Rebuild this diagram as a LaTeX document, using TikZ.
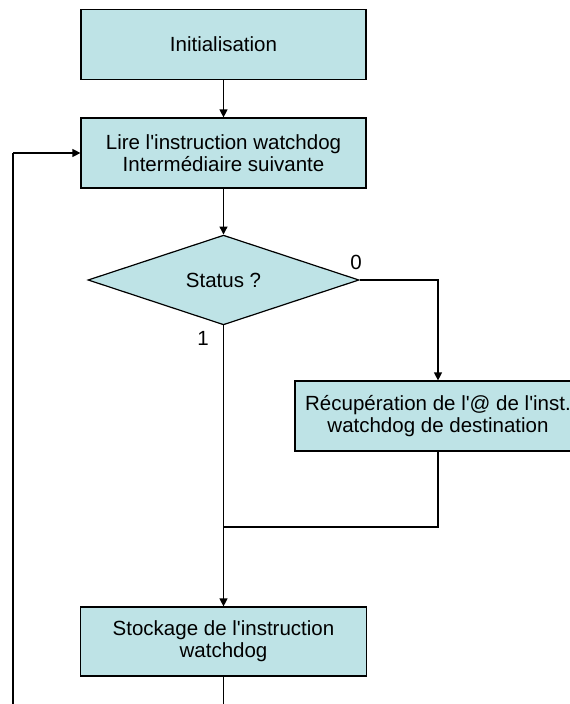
\documentclass[tikz,border=0pt]{standalone}
\usepackage{fontspec}
\setmainfont{Liberation Sans}
\usetikzlibrary{shapes.geometric,arrows.meta}
\definecolor{boxfill}{RGB}{190,227,230}
\newcommand{\apos}{\textquotesingle}
\begin{document}
\begin{tikzpicture}[x=1pt,y=-1pt,
  every node/.style={font=\fontsize{20.5}{22}\selectfont},
  procbox/.style={draw=black,fill=boxfill,line width=1.2pt,rectangle,minimum width=285pt,minimum height=70pt,inner sep=0pt,align=center},
  decision/.style={draw=black,fill=boxfill,line width=1.2pt,diamond,minimum width=271pt,minimum height=84pt,inner sep=0pt,align=center},
  conn/.style={line width=1.2pt,draw=black},
  arr/.style={conn,-{Triangle[length=8pt,width=8pt]}},
  lbl/.style={inner sep=0pt}]
\clip (0,0) rectangle (570,704);
\fill[white] (0,0) rectangle (570,704);
\node[procbox] (init) at (223.5,44.5) {Initialisation};
\node[procbox] (lire) at (223.5,153) {Lire l\apos instruction watchdog\\Intermédiaire suivante};
\node[decision] (status) at (223.5,280) {Status ?};
\node[procbox,minimum width=286pt] (recup) at (438,416) {Récupération de l\apos @ de l\apos inst.\\watchdog de destination};
\node[procbox,minimum width=286pt,minimum height=69pt] (stock) at (223.5,641.5) {Stockage de l\apos instruction\\watchdog};
\node[lbl] (l0) at (356,262) {0};
\node[lbl] (l1) at (203,338) {1};
\coordinate (merge) at (223.5,527);
\coordinate (loopbot) at (223.5,730);
\coordinate (loopleft) at (13,153);
\draw[arr] (init.south) -- (lire.north);
\draw[arr] (lire.south) -- (status.north);
\draw[arr] (status.east) -| (recup.north);
\draw[conn] (recup.south) |- (merge);
\draw[arr] (status.south) -- (stock.north);
\draw[conn] (stock.south) -- (loopbot) -| (loopleft);
\draw[arr] (loopleft) -- (lire.west);
\end{tikzpicture}
\end{document}
